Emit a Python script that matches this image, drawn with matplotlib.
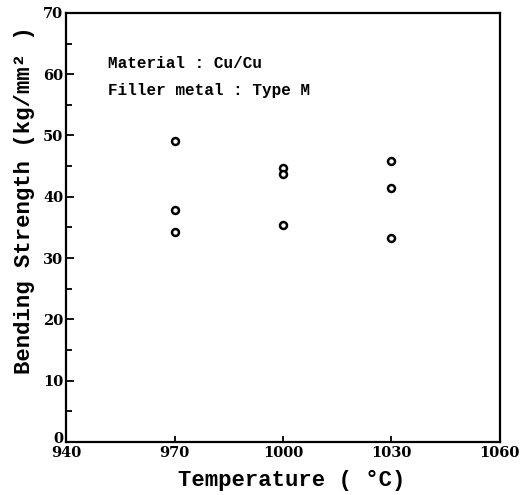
import numpy as np
import matplotlib
matplotlib.use('Agg')
import matplotlib.pyplot as plt
import matplotlib.transforms as mtransforms
from matplotlib.ticker import MultipleLocator

# measured bending strength at each brazing temperature
temperature = [970, 970, 970, 1000, 1000, 1000, 1030, 1030, 1030]
strength = [49.1, 37.8, 34.2, 44.7, 43.8, 35.4, 45.9, 41.5, 33.2]

x_ticks = [940, 970, 1000, 1030, 1060]
y_ticks = [0, 10, 20, 30, 40, 50, 60, 70]

plt.rcParams['font.family'] = ['DejaVu Serif']
mono = ['Liberation Mono', 'DejaVu Sans Mono']

fig = plt.figure(figsize=(5.25, 4.95), dpi=100)
ax = fig.add_axes([0.126, 0.107, 0.826, 0.867])

ax.plot(temperature, strength, 'o', mfc='white', mec='black', ms=5, mew=1.8, ls='none')

ax.set_xlim(940, 1060)
ax.set_ylim(0, 70)
ax.set_xticks(x_ticks)
ax.set_yticks(y_ticks)
ax.yaxis.set_minor_locator(MultipleLocator(5))
ax.tick_params(axis='both', direction='in', labelsize=10.5, width=1.3)
ax.tick_params(axis='y', which='major', length=6)
ax.tick_params(axis='y', which='minor', length=4, direction='in', width=1.3)
ax.tick_params(axis='x', which='major', length=4, pad=3)
ax.tick_params(axis='y', pad=2)
for lbl in ax.get_xticklabels() + ax.get_yticklabels():
    lbl.set_fontweight('bold')
# the "0" sits just above the "940" in the original
zero = ax.get_yticklabels()[0]
zero.set_transform(zero.get_transform() + mtransforms.ScaledTranslation(0, 3 / 72, fig.dpi_scale_trans))
for s in ax.spines.values():
    s.set_linewidth(1.6)

ax.set_xlabel('Temperature ( \u00b0C)', fontsize=16, family=mono, fontweight='bold')
ax.set_ylabel('Bending Strength (kg/mm\u00b2 )', fontsize=16, family=mono, fontweight='bold')
ax.xaxis.set_label_coords(0.521, -0.064)
ax.yaxis.set_label_coords(-0.072, 0.564)

ax.text(951.5, 61.8, 'Material : Cu/Cu', fontsize=11.5, family=mono, fontweight='bold', va='center')
ax.text(951.5, 57.4, 'Filler metal : Type M', fontsize=11.5, family=mono, fontweight='bold', va='center')

fig.savefig('out.png', dpi=100)
